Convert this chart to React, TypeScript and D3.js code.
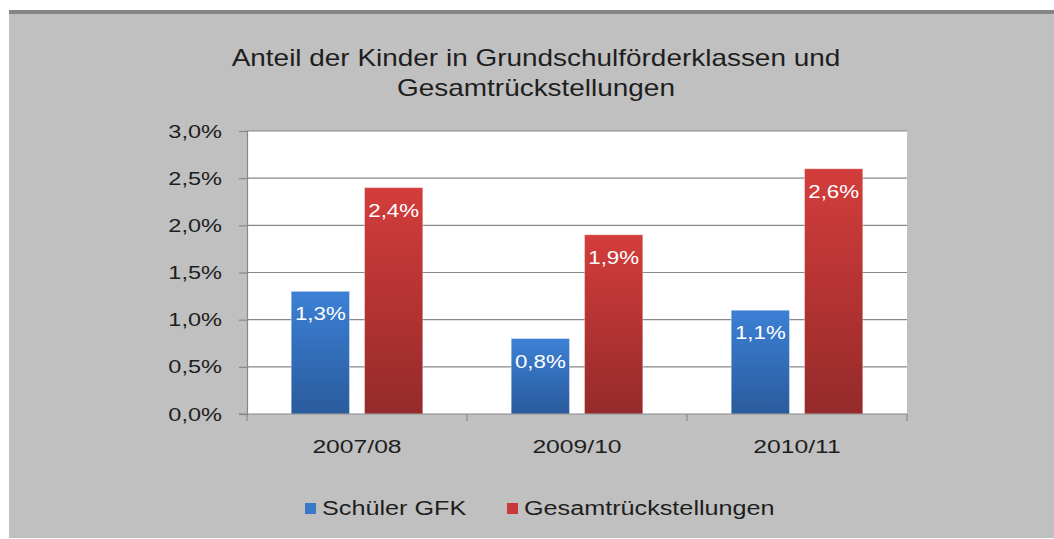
import React from "react";
import { useEffect, useRef } from "react";
import { select, scaleBand, scaleLinear, axisLeft, axisBottom } from "d3";

const categories = ["2007/08", "2009/10", "2010/11"];
const seriesNames = ["Schüler GFK", "Gesamtrückstellungen"];
const schuelerGFK = [1.3, 0.8, 1.1];
const gesamt = [2.4, 1.9, 2.6];
const yTicks = [0, 0.5, 1.0, 1.5, 2.0, 2.5, 3.0];

const fmt = (v: number) => v.toFixed(1).replace(".", ",") + "%";
const FONT = "'Liberation Sans', Arial, sans-serif";
const SX = 1.24; // the source picture's text is horizontally stretched

// stretch a text around its own x anchor
const stretch = (sel: any, sx = SX) =>
  sel.attr("transform", function (this: SVGTextElement) {
    const x = +(this.getAttribute("x") || 0);
    return `translate(${x},0) scale(${sx},1) translate(${-x},0)`;
  });

const App = () => {
  const svgRef = useRef<SVGSVGElement>(null);

  useEffect(() => {
    const svg = select(svgRef.current);
    svg.selectAll("*").remove();

    const left = 247;
    const right = 907;
    const top = 131;
    const bottom = 414;

    const defs = svg.append("defs");
    const grads = [
      { id: "gBlue", c1: "#3c80d6", c2: "#2a5b9c" },
      { id: "gRed", c1: "#d33d3b", c2: "#952a2a" },
    ];
    grads.forEach((g) => {
      const lg = defs
        .append("linearGradient")
        .attr("id", g.id)
        .attr("x1", 0)
        .attr("y1", 0)
        .attr("x2", 0)
        .attr("y2", 1);
      lg.append("stop").attr("offset", "0%").attr("stop-color", g.c1);
      lg.append("stop").attr("offset", "100%").attr("stop-color", g.c2);
    });

    // background
    svg.append("rect").attr("x", 9).attr("y", 10).attr("width", 1045).attr("height", 528).attr("fill", "#c0c0c0");
    svg.append("rect").attr("x", 9).attr("y", 10).attr("width", 1045).attr("height", 4).attr("fill", "#858585");

    // title
    const title = svg
      .append("text")
      .attr("text-anchor", "middle")
      .style("font", `23px ${FONT}`)
      .attr("fill", "#1e1e1e")
      .attr("transform", `translate(536,0) scale(${SX * 0.98},1) translate(-536,0)`);
    title.append("tspan").attr("x", 536).attr("y", 66).text("Anteil der Kinder in Grundschulförderklassen und");
    title.append("tspan").attr("x", 536).attr("y", 96).text("Gesamtrückstellungen");

    const xScale = scaleBand().domain(categories).range([left, right]);
    const yScale = scaleLinear().domain([0, 3]).range([bottom, top]);

    const x1 = scaleBand()
      .domain(seriesNames)
      .range([0, xScale.bandwidth()])
      .paddingInner(0.2055)
      .paddingOuter(0.603);

    // plot area
    svg.append("rect").attr("x", left).attr("y", top).attr("width", right - left).attr("height", bottom - top).attr("fill", "#ffffff");

    // grid
    svg
      .selectAll(".grid")
      .data(yTicks.slice(1))
      .join("line")
      .attr("class", "grid")
      .attr("x1", left)
      .attr("x2", right)
      .attr("y1", (d) => yScale(d))
      .attr("y2", (d) => yScale(d))
      .attr("stroke", "#888888")
      .attr("stroke-width", 1.2);

    // bars
    const data = categories.map((c, i) => ({ cat: c, vals: [schuelerGFK[i], gesamt[i]] }));
    const fills = ["url(#gBlue)", "url(#gRed)"];
    const groups = svg
      .selectAll(".grp")
      .data(data)
      .join("g")
      .attr("class", "grp")
      .attr("transform", (d) => `translate(${xScale(d.cat)},0)`);

    groups
      .selectAll("rect")
      .data((d) => d.vals.map((v, k) => ({ v, k })))
      .join("rect")
      .attr("x", (d) => x1(seriesNames[d.k])!)
      .attr("y", (d) => yScale(d.v))
      .attr("width", x1.bandwidth())
      .attr("height", (d) => bottom - yScale(d.v))
      .attr("fill", (d) => fills[d.k])
      .attr("stroke", "#ffffff")
      .attr("stroke-opacity", 0.35);

    const labels = groups
      .selectAll("text")
      .data((d) => d.vals.map((v, k) => ({ v, k })))
      .join("text")
      .attr("x", (d) => x1(seriesNames[d.k])! + x1.bandwidth() / 2)
      .attr("y", (d) => yScale(d.v) + 29)
      .attr("text-anchor", "middle")
      .style("font", `18px ${FONT}`)
      .attr("fill", "#ffffff")
      .text((d) => fmt(d.v));
    stretch(labels);

    // y axis
    const yAxis = axisLeft(yScale)
      .tickValues(yTicks)
      .tickSize(8)
      .tickPadding(17)
      .tickFormat((d) => fmt(d as number));
    const gy = svg.append("g").attr("transform", `translate(${left},0)`).call(yAxis);
    gy.select(".domain").attr("stroke", "#888888").attr("stroke-width", 1.2);
    gy.selectAll(".tick line").attr("stroke", "#888888").attr("stroke-width", 1.2);
    const ytext = gy
      .selectAll(".tick text")
      .style("font", `19px ${FONT}`)
      .attr("fill", "#1e1e1e");
    stretch(ytext);

    // x axis
    const xAxis = axisBottom(xScale).tickSize(0).tickPadding(26);
    const gx = svg.append("g").attr("transform", `translate(0,${bottom})`).call(xAxis);
    gx.select(".domain").remove();
    const xtext = gx
      .selectAll(".tick text")
      .style("font", `19px ${FONT}`)
      .attr("fill", "#1e1e1e");
    stretch(xtext, 1.3);
    svg
      .append("line")
      .attr("x1", left - 8)
      .attr("x2", right)
      .attr("y1", bottom)
      .attr("y2", bottom)
      .attr("stroke", "#888888")
      .attr("stroke-width", 1.2);
    const bounds = categories.map((c) => xScale(c)!).concat([right]);
    svg
      .selectAll(".xtick")
      .data(bounds)
      .join("line")
      .attr("class", "xtick")
      .attr("x1", (d) => d)
      .attr("x2", (d) => d)
      .attr("y1", bottom)
      .attr("y2", bottom + 7)
      .attr("stroke", "#888888")
      .attr("stroke-width", 1.2);

    // legend
    const legendX = [305, 507];
    const legendColors = ["#3a78c8", "#c83a3a"];
    const lg = svg
      .selectAll(".legend")
      .data(seriesNames)
      .join("g")
      .attr("class", "legend")
      .attr("transform", (_d, i) => `translate(${legendX[i]},0)`);
    lg.append("rect").attr("x", 0).attr("y", 503).attr("width", 11).attr("height", 11).attr("fill", (_d, i) => legendColors[i]);
    const ltext = lg
      .append("text")
      .attr("x", 17)
      .attr("y", 515)
      .style("font", `21px ${FONT}`)
      .attr("fill", "#1e1e1e")
      .text((d) => d);
    stretch(ltext, 1.2);
  }, []);

  return (
    <svg
      ref={svgRef}
      width={1054}
      height={539}
      style={{ position: "absolute", left: 0, top: 0, background: "#ffffff" }}
    />
  );
};

export default App;
